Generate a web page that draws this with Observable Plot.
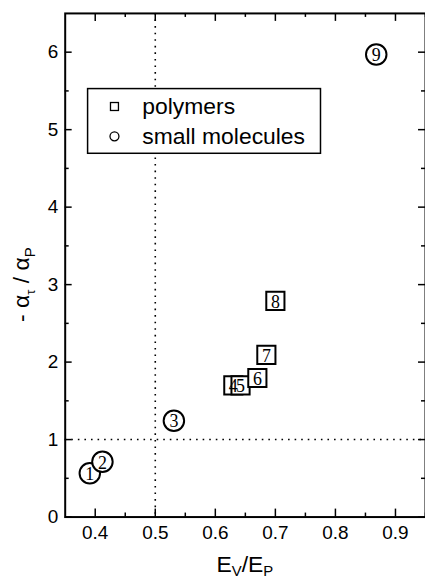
<!DOCTYPE html>
<html><head><meta charset="utf-8">
<script src="https://cdn.jsdelivr.net/npm/d3@7"></script>
<script src="https://cdn.jsdelivr.net/npm/@observablehq/plot@0.6"></script>
<style>
html,body{margin:0;padding:0;background:#fff;overflow:hidden;}
#chart{position:relative;width:425px;height:581px;overflow:hidden;}
#chart svg{display:block;}
</style></head><body><div id="chart"></div>
<script>
// ---- data ----
const ids = ["1","2","3","4","5","6","7","8","9"];
const groups = ["small molecules","small molecules","small molecules","polymers","polymers","polymers","polymers","polymers","small molecules"];
const evep = [0.391,0.412,0.531,0.630,0.642,0.670,0.685,0.700,0.868];
const alphaRatio = [0.565,0.713,1.243,1.70,1.70,1.795,2.094,2.79,5.97];
const xMajor = [0.4,0.5,0.6,0.7,0.8,0.9];
const xMinor = [0.45,0.55,0.65,0.75,0.85,0.95];
const yMajor = [0,1,2,3,4,5,6];
const yMinor = [0.5,1.5,2.5,3.5,4.5,5.5];
const xRef = [0.5];
const yRef = [1];
const legendItems = ["polymers","small molecules"];

const rows = ids.map((id,i)=>({id, group:groups[i], x:evep[i], y:alphaRatio[i]}));

const W = 427, Hh = 581, mL = 65, mR = 0, mT = 13, mB = 62;
const iw = W - mL - mR, ih = Hh - mT - mB;
const sans = "Liberation Sans, Arial, sans-serif";
const serif = "Liberation Serif, DejaVu Serif, serif";
const sym = g => g === "polymers" ? "square" : "circle";

const plot = Plot.plot({
  width: W, height: Hh,
  marginLeft: mL, marginRight: mR, marginTop: mT, marginBottom: mB,
  style: {fontFamily: sans, background: "white", overflow: "visible"},
  x: {domain: [0.35, 0.95]},
  y: {domain: [0, 6.5]},
  marks: [
    Plot.ruleX(xRef, {stroke: "black", strokeWidth: 1.6, strokeDasharray: "1.6,5"}),
    Plot.ruleY(yRef, {stroke: "black", strokeWidth: 1.6, strokeDasharray: "1.6,5"}),
    // inward ticks
    Plot.ruleX(xMajor, {insetTop: ih - 8, stroke: "black", strokeWidth: 1.5}),
    Plot.ruleX(xMajor, {insetBottom: ih - 8, stroke: "black", strokeWidth: 1.5}),
    Plot.ruleX(xMinor, {insetTop: ih - 4, stroke: "black", strokeWidth: 1.5}),
    Plot.ruleX(xMinor, {insetBottom: ih - 4, stroke: "black", strokeWidth: 1.5}),
    Plot.ruleY(yMajor, {insetRight: iw - 7, stroke: "black", strokeWidth: 1.5}),
    Plot.ruleY(yMajor, {insetLeft: iw - 7, stroke: "black", strokeWidth: 1.5}),
    Plot.ruleY(yMinor, {insetRight: iw - 4, stroke: "black", strokeWidth: 1.5}),
    Plot.ruleY(yMinor, {insetLeft: iw - 4, stroke: "black", strokeWidth: 1.5}),
    Plot.axisX({ticks: xMajor, tickSize: 0, tickPadding: 9, fontSize: 19, label: null, tickFormat: d3.format(".1f")}),
    Plot.axisY({ticks: yMajor, tickSize: 0, tickPadding: 7, fontSize: 19, label: null, tickFormat: d3.format("d")}),
    Plot.frame({stroke: "black", strokeWidth: 2}),
    Plot.dot(rows, {x: "x", y: "y", symbol: d => sym(d.group), r: 10.3, fill: "white", stroke: "black", strokeWidth: 2}),
    Plot.text(rows, {x: "x", y: "y", text: "id", fontFamily: serif, fontSize: 18, fill: "black", dy: 1})
  ]
});

const root = document.getElementById("chart");
root.appendChild(plot);
const svg = d3.select(plot);

// axis titles with subscripts
const xt = svg.append("text").attr("x", mL + iw/2).attr("y", 575)
  .attr("text-anchor","middle").attr("font-family", sans).attr("font-size", 23).attr("fill","black");
xt.append("tspan").text("E");
xt.append("tspan").attr("font-size", 15).attr("dy", 4).text("V");
xt.append("tspan").attr("dy", -4).text("/E");
xt.append("tspan").attr("font-size", 15).attr("dy", 4).text("P");

const yt = svg.append("text").attr("transform", `translate(29,${mT + ih/2 + 20}) rotate(-90)`)
  .attr("text-anchor","middle").attr("font-family", sans).attr("font-size", 23).attr("fill","black");
yt.append("tspan").text("- α");
yt.append("tspan").attr("font-size", 13).attr("dy", 6).text("τ");
yt.append("tspan").attr("dy", -6).text(" / α");
yt.append("tspan").attr("font-size", 15).attr("dy", 6).text("P");

// legend
const lg = svg.append("g");
lg.append("rect").attr("x", 88).attr("y", 89).attr("width", 234).attr("height", 65)
  .attr("fill","white").attr("stroke","black").attr("stroke-width",1.5);
legendItems.forEach((name, i) => {
  const cy = 107 + i*30;
  if (sym(name) === "square") {
    lg.append("rect").attr("x", 111).attr("y", cy-4).attr("width", 8).attr("height", 8)
      .attr("fill","white").attr("stroke","black").attr("stroke-width",1.3);
  } else {
    lg.append("circle").attr("cx", 115).attr("cy", cy).attr("r", 4.5)
      .attr("fill","white").attr("stroke","black").attr("stroke-width",1.3);
  }
  lg.append("text").attr("x", 143).attr("y", cy + 8).attr("text-anchor","start").attr("font-family", sans)
    .attr("font-size", 23).attr("fill","black").text(name);
});
</script></body></html>
